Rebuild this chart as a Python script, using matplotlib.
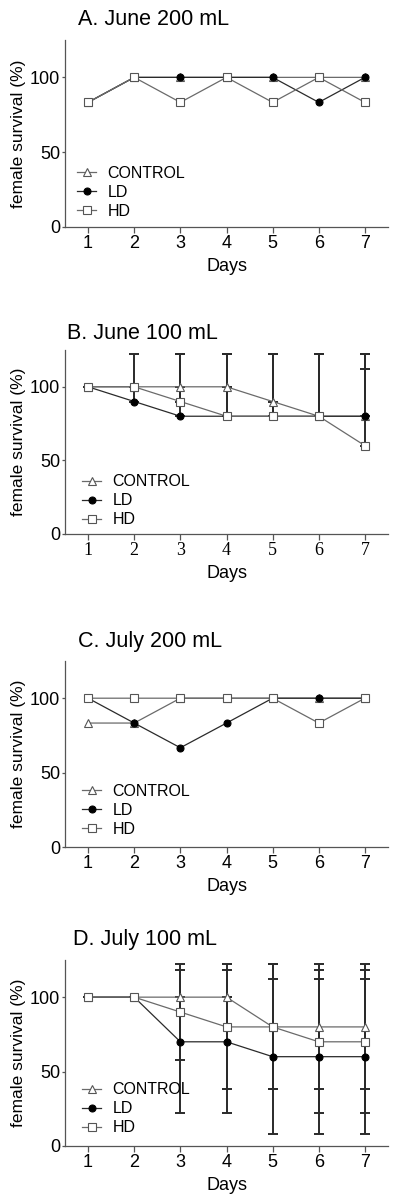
import matplotlib
matplotlib.use("Agg")
import matplotlib.pyplot as plt
import numpy as np

plt.rcParams["font.family"] = ["Liberation Sans", "DejaVu Sans"]

days = [1, 2, 3, 4, 5, 6, 7]
series_names = ["CONTROL", "LD", "HD"]

# A. June 200 mL
june200_control = [83.3, 100, 100, 100, 100, 100, 100]
june200_ld = [83.3, 100, 100, 100, 100, 83.3, 100]
june200_hd = [83.3, 100, 83.3, 100, 83.3, 100, 83.3]

# B. June 100 mL (upper error bars only)
june100_control = [100, 100, 100, 100, 90, 80, 80]
june100_ld = [100, 90, 80, 80, 80, 80, 80]
june100_hd = [100, 100, 90, 80, 80, 80, 60]
june100_control_err = [0, 0, 0, 0, 32, 42, 42]
june100_ld_err = [0, 32, 42, 42, 42, 42, 42]
june100_hd_err = [0, 0, 32, 42, 42, 42, 52]

# C. July 200 mL
july200_control = [83.3, 83.3, 100, 100, 100, 100, 100]
july200_ld = [100, 83.3, 66.7, 83.3, 100, 100, 100]
july200_hd = [100, 100, 100, 100, 100, 83.3, 100]

# D. July 100 mL (symmetric error bars)
july100_control = [100, 100, 100, 100, 80, 80, 80]
july100_ld = [100, 100, 70, 70, 60, 60, 60]
july100_hd = [100, 100, 90, 80, 80, 70, 70]
july100_control_err = [0, 0, 0, 0, 42, 42, 42]
july100_ld_err = [0, 0, 48, 48, 52, 52, 52]
july100_hd_err = [0, 0, 32, 42, 42, 48, 48]

styles = {
    "CONTROL": dict(marker="^", color="#6a6a6a", mfc="white", mec="#555555", ms=5.5),
    "LD": dict(marker="o", color="#2a2a2a", mfc="black", mec="black", ms=5),
    "HD": dict(marker="s", color="#6a6a6a", mfc="white", mec="#555555", ms=5.5),
}


def draw_panel(ax, values, errs=None, upper_only=False, legend_pos=(0.04, 0.185),
               serif_xticks=False):
    # error bars first so the markers sit on top
    if errs is not None:
        for vals, err in zip(values, errs):
            err = np.array(err)
            yerr = [np.zeros_like(err), err] if upper_only else err
            ax.errorbar(days, vals, yerr=yerr, fmt="none", ecolor="#2a2a2a",
                        elinewidth=1.4, capsize=3.5, capthick=1.4, zorder=2)
    for name, vals in zip(series_names, values):
        st = styles[name]
        ax.plot(days, vals, label=name, color=st["color"], lw=0.9,
                marker=st["marker"], markersize=st["ms"],
                markerfacecolor=st["mfc"], markeredgecolor=st["mec"],
                markeredgewidth=0.8, zorder=3)

    ax.set_xlim(0.5, 7.5)
    ax.set_ylim(0, 125)
    ax.set_xticks(days)
    ax.set_yticks([0, 50, 100])
    for s in ["top", "right"]:
        ax.spines[s].set_visible(False)
    for s in ["left", "bottom"]:
        ax.spines[s].set_color("#555555")
        ax.spines[s].set_linewidth(0.9)
    ax.tick_params(axis="x", length=4, width=0.9, color="#555555", pad=2, labelsize=13)
    ax.tick_params(axis="y", length=2.5, width=0.9, color="#555555", pad=1, labelsize=13)
    if serif_xticks:
        for lab in ax.get_xticklabels():
            lab.set_family("Liberation Serif")
    ax.set_xlabel("Days", fontsize=13, labelpad=4)
    ax.set_ylabel("female survival (%)", fontsize=12.5, labelpad=3)

    ax.legend(loc="center left", bbox_to_anchor=legend_pos, frameon=False,
              fontsize=11.5, handlelength=1.2, handletextpad=0.7,
              labelspacing=0.25, borderpad=0, borderaxespad=0)


fig = plt.figure(figsize=(4, 12.04), dpi=100)

ax_a = fig.add_axes([0.1625, 0.8115, 0.8075, 0.1553])
draw_panel(ax_a, [june200_control, june200_ld, june200_hd], legend_pos=(0.037, 0.185))

ax_b = fig.add_axes([0.1625, 0.5565, 0.8075, 0.1528])
draw_panel(ax_b, [june100_control, june100_ld, june100_hd],
           errs=[june100_control_err, june100_ld_err, june100_hd_err],
           upper_only=True, legend_pos=(0.053, 0.18), serif_xticks=True)

ax_c = fig.add_axes([0.1625, 0.2965, 0.8075, 0.1545])
draw_panel(ax_c, [july200_control, july200_ld, july200_hd], legend_pos=(0.053, 0.196))

ax_d = fig.add_axes([0.1625, 0.0482, 0.8075, 0.1545])
draw_panel(ax_d, [july100_control, july100_ld, july100_hd],
           errs=[july100_control_err, july100_ld_err, july100_hd_err],
           legend_pos=(0.053, 0.2))

titles = ["A. June 200 mL", "B. June 100 mL", "C. July 200 mL", "D. July 100 mL"]
title_xy = [(0.195, 0.9834), (0.1675, 0.7234), (0.195, 0.4668), (0.1825, 0.2193)]
for t, (x, y) in zip(titles, title_xy):
    fig.text(x, y, t, fontsize=15.5, ha="left", va="center")

fig.savefig("out.png", dpi=100)
